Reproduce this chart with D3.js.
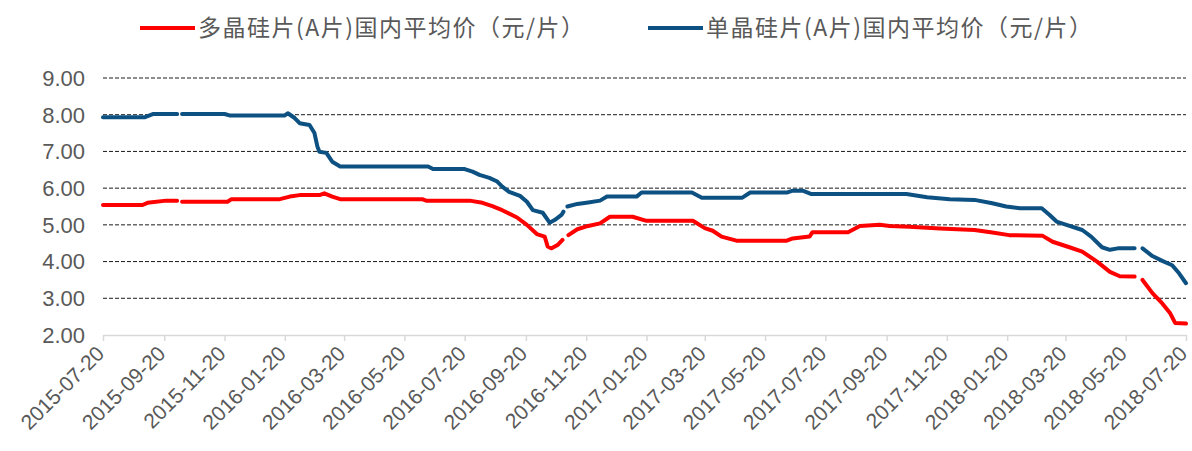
<!DOCTYPE html>
<html>
<head>
<meta charset="utf-8">
<script src="https://cdn.jsdelivr.net/npm/d3@7"></script>
<style>
  body { margin: 0; background: #fff; }
  text { font-family: "Liberation Sans", Arial, "Noto Sans CJK SC", sans-serif; fill: #595959; }
</style>
</head>
<body>
<div id="chart"></div>
<script>
// series names
const polyName = "多晶硅片(A片)国内平均价（元/片）";
const monoName = "单晶硅片(A片)国内平均价（元/片）";

// 多晶 (red), null = gap in the line
const polyDates = ["2015-07-20","2015-08-29","2015-09-03","2015-09-22","2015-10-03","2015-10-05","2015-10-08","2015-11-23","2015-11-27","2016-01-15","2016-01-25","2016-02-04","2016-02-24","2016-02-29","2016-03-08","2016-03-16","2016-06-07","2016-06-11","2016-07-25","2016-08-07","2016-08-17","2016-08-27","2016-09-11","2016-09-21","2016-10-01","2016-10-09","2016-10-12","2016-10-16","2016-10-22","2016-10-27","2016-10-30","2016-11-02","2016-11-11","2016-11-22","2016-12-04","2016-12-14","2017-01-06","2017-01-20","2017-03-08","2017-03-20","2017-03-28","2017-04-06","2017-04-21","2017-06-11","2017-06-17","2017-07-04","2017-07-07","2017-08-12","2017-08-24","2017-09-13","2017-09-23","2017-10-13","2017-11-13","2017-12-18","2018-01-05","2018-01-22","2018-02-25","2018-03-07","2018-03-24","2018-04-06","2018-04-21","2018-05-04","2018-05-14","2018-05-29","2018-06-02","2018-06-06","2018-06-16","2018-06-26","2018-07-04","2018-07-09","2018-07-20"];
const polyPrices = [5.54,5.54,5.6,5.66,5.66,null,5.63,5.63,5.7,5.7,5.77,5.81,5.81,5.86,5.77,5.7,5.7,5.66,5.66,5.6,5.51,5.4,5.2,5.0,4.75,4.68,4.41,4.36,4.45,4.59,null,4.72,4.88,4.97,5.04,5.22,5.22,5.11,5.11,4.91,4.84,4.68,4.57,4.57,4.63,4.68,4.8,4.8,4.97,5.0,4.97,4.95,4.9,4.86,4.79,4.72,4.7,4.54,4.39,4.27,4.0,3.72,3.6,3.59,null,3.5,3.14,2.86,2.59,2.33,2.31];

// 单晶 (blue)
const monoDates = ["2015-07-20","2015-08-31","2015-09-09","2015-10-03","2015-10-05","2015-10-08","2015-11-20","2015-11-25","2016-01-20","2016-01-23","2016-01-30","2016-02-04","2016-02-14","2016-02-19","2016-02-22","2016-02-24","2016-03-02","2016-03-08","2016-03-16","2016-06-13","2016-06-18","2016-07-20","2016-07-28","2016-08-04","2016-08-14","2016-08-22","2016-08-27","2016-09-03","2016-09-14","2016-09-21","2016-09-27","2016-10-07","2016-10-14","2016-10-19","2016-10-26","2016-10-28","2016-10-30","2016-11-01","2016-11-11","2016-11-22","2016-12-04","2016-12-11","2017-01-10","2017-01-15","2017-03-07","2017-03-17","2017-04-27","2017-05-05","2017-06-11","2017-06-17","2017-06-27","2017-07-06","2017-10-10","2017-10-31","2017-11-23","2017-12-18","2018-01-05","2018-01-19","2018-02-02","2018-02-24","2018-03-04","2018-03-11","2018-03-21","2018-04-06","2018-04-15","2018-04-26","2018-05-04","2018-05-12","2018-05-29","2018-06-02","2018-06-06","2018-06-16","2018-06-26","2018-07-06","2018-07-13","2018-07-20"];
const monoPrices = [7.93,7.93,8.02,8.02,null,8.02,8.02,7.98,7.98,8.04,7.91,7.77,7.72,7.5,7.13,6.99,6.96,6.72,6.59,6.59,6.52,6.52,6.45,6.36,6.28,6.18,6.04,5.9,5.79,5.63,5.4,5.33,5.06,5.13,5.27,5.36,null,5.5,5.57,5.61,5.66,5.77,5.77,5.88,5.88,5.74,5.74,5.88,5.88,5.93,5.93,5.84,5.84,5.75,5.7,5.68,5.59,5.5,5.45,5.45,5.27,5.09,5.0,4.86,4.68,4.39,4.32,4.36,4.36,null,4.36,4.15,4.02,3.9,3.68,3.41];

const tickLabels = ["2015-07-20","2015-09-20","2015-11-20","2016-01-20","2016-03-20","2016-05-20","2016-07-20","2016-09-20","2016-11-20","2017-01-20","2017-03-20","2017-05-20","2017-07-20","2017-09-20","2017-11-20","2018-01-20","2018-03-20","2018-05-20","2018-07-20"];
const yTicks = [2, 3, 4, 5, 6, 7, 8, 9];

const margin = {top: 78, right: 6, bottom: 116, left: 103},
  width = 1192 - margin.left - margin.right,
  height = 451 - margin.top - margin.bottom;

const parse = d3.timeParse("%Y-%m-%d");

const svg = d3.select("#chart")
  .append("svg")
    .attr("width", 1192)
    .attr("height", 451);

const g = svg.append("g")
  .attr("transform", "translate(" + margin.left + "," + margin.top + ")");

let x = d3.scaleTime()
  .domain([parse(tickLabels[0]), parse(tickLabels[tickLabels.length - 1])])
  .range([0, width]);

let y = d3.scaleLinear()
  .domain([2, 9])
  .range([height, 0]);

// grid lines
g.selectAll(".grid")
  .data(yTicks.filter(v => v > 2))
  .enter()
  .append("line")
    .attr("x1", 0)
    .attr("x2", width)
    .attr("y1", d => y(d))
    .attr("y2", d => y(d))
    .attr("stroke", "#1a1a1a")
    .attr("stroke-width", 1)
    .attr("stroke-dasharray", "4,2");

// y labels
g.selectAll(".ylab")
  .data(yTicks)
  .enter()
  .append("text")
    .attr("x", -18)
    .attr("y", d => y(d))
    .attr("dy", "0.36em")
    .attr("text-anchor", "end")
    .style("font-size", "22px")
    .text(d => d.toFixed(2));

// x axis
const xAxis = g.append("g")
  .attr("transform", "translate(0," + height + ")")
  .call(d3.axisBottom(x)
    .tickValues(tickLabels.map(parse))
    .tickFormat(d3.timeFormat("%Y-%m-%d"))
    .tickSize(6)
    .tickSizeOuter(0));

xAxis.select(".domain").attr("stroke", "#d9d9d9").attr("stroke-width", 1.5);
xAxis.selectAll(".tick line").attr("stroke", "#d9d9d9").attr("stroke-width", 1.5);
xAxis.selectAll(".tick text")
  .attr("x", 0)
  .attr("y", 0)
  .attr("dy", 0)
  .attr("transform", "translate(2,20) rotate(-45)")
  .style("text-anchor", "end")
  .style("font-size", "21px")
  .style("font-family", "Liberation Sans, Arial, sans-serif")
  .attr("fill", "#595959");

// lines
const line = d3.line()
  .defined(d => d.value != null)
  .x(d => x(d.date))
  .y(d => y(d.value));

const series = [
  {name: polyName, color: "#ff0000", dates: polyDates, values: polyPrices},
  {name: monoName, color: "#0d5182", dates: monoDates, values: monoPrices}
];

series.forEach(function(s) {
  const pts = s.dates.map((d, i) => ({date: parse(d), value: s.values[i]}));
  g.append("path")
    .datum(pts)
    .attr("fill", "none")
    .attr("stroke", s.color)
    .attr("stroke-width", 4)
    .attr("stroke-linejoin", "round")
    .attr("stroke-linecap", "round")
    .attr("d", line);
});

// legend
const legendX = [140, 648];
series.forEach(function(s, i) {
  const lg = svg.append("g").attr("transform", "translate(" + legendX[i] + ",28)");
  lg.append("line")
    .attr("x1", 0)
    .attr("x2", 55)
    .attr("y1", 0)
    .attr("y2", 0)
    .attr("stroke", s.color)
    .attr("stroke-width", 4);
  lg.append("text")
    .attr("x", 58)
    .attr("dy", "0.36em")
    .style("font-size", "23px")
    .style("letter-spacing", "1.5px")
    .style("font-family", "Noto Sans CJK SC, sans-serif")
    .text(s.name);
});
</script>
</body>
</html>
